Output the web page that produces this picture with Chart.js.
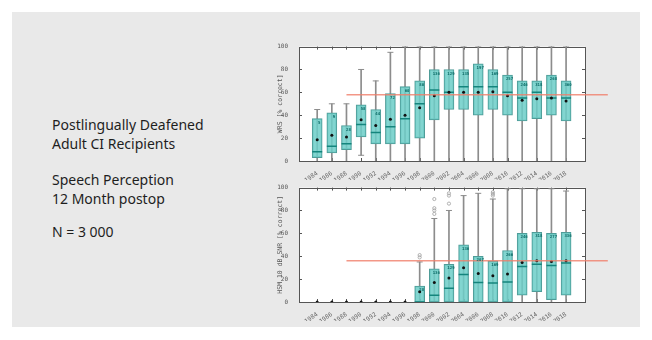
<!DOCTYPE html>
<html>
<head>
<meta charset="utf-8">
<script src="https://cdn.jsdelivr.net/npm/chart.js@4.4.0/dist/chart.umd.min.js"></script>
<style>
  body { margin: 0; background: #ffffff; }
  #panel { position: absolute; left: 12px; top: 12px; width: 628px; height: 315px; background: #e9e9e9; }
  .txt { position: absolute; left: 52px; font-family: "Noto Sans", sans-serif; font-size: 14px; color: #1e1e1e; line-height: 19px; white-space: nowrap; }
  .cv { position: absolute; left: 262px; width: 380px; height: 140px; }
</style>
</head>
<body>
<div id="panel"></div>
<div class="txt" style="top:115px">Postlingually Deafened<br>Adult CI Recipients</div>
<div class="txt" style="top:170px">Speech Perception<br>12 Month postop</div>
<div class="txt" style="top:222px">N = 3 000</div>
<div class="cv" style="top:40px"><canvas id="wrsChart" width="380" height="140"></canvas></div>
<div class="cv" style="top:181px"><canvas id="hsmChart" width="380" height="140"></canvas></div>
<script>
const years = [1984, 1986, 1988, 1990, 1992, 1994, 1996, 1998, 2000, 2002, 2004, 2006, 2008, 2010, 2012, 2014, 2016, 2018];

// WRS [% correct]
const wrsMin    = [0, 0, 0, 5, 0, 0, 0, 0, 0, 0, 0, 0, 0, 0, 0, 0, 0, 0];
const wrsQ1     = [3, 7, 10, 21, 15, 15, 15, 20, 36, 45, 45, 40, 45, 40, 35, 37, 40, 35];
const wrsMedian = [8, 13, 15, 32, 25, 30, 37, 50, 62, 60, 65, 65, 65, 60, 55, 60, 55, 55];
const wrsQ3     = [37, 42, 31, 49, 45, 59, 65, 70, 80, 80, 80, 85, 80, 75, 70, 70, 75, 70];
const wrsMax    = [45, 50, 50, 80, 70, 95, 100, 100, 100, 100, 100, 100, 100, 100, 100, 100, 100, 100];
const wrsMean   = [18.5, 22.5, 21, 36, 31, 36.5, 40, 46.5, 57, 60, 60, 60, 60.5, 57, 53, 54.5, 55, 52.5];
const wrsCount  = [5, 9, 28, 58, 44, 72, 60, 80, 136, 129, 135, 197, 169, 257, 246, 318, 268, 360];
const wrsRef = 58;

// HSM 10 dB SNR [% correct]
const hsmMin    = [null, null, null, null, null, null, null, 0, 0, 0, 0, 0, 0, 0, 0, 0, 0, 0];
const hsmQ1     = [null, null, null, null, null, null, null, 0, 0, 0, 0, 0, 0, 0, 6, 9, 2, 6];
const hsmMedian = [null, null, null, null, null, null, null, 0, 6, 12, 24, 17, 16.5, 17.5, 31, 33, 32, 34];
const hsmQ3     = [null, null, null, null, null, null, null, 14, 29, 33, 50, 40, 36, 45, 60, 61, 60, 61];
const hsmMax    = [null, null, null, null, null, null, null, 35, 73, 80, 93, 95, 90, 99, 99, 99, 99, 97];
const hsmMean   = [0, 0, 0, 0, 0, 0, 0, 9, 17, 21, 30, 25, 23, 24.5, 34.5, 36, 35.5, 36];
const hsmCount  = [null, null, null, null, null, null, null, 28, 136, 129, 136, 207, 169, 266, 246, 318, 277, 336];
const hsmOutlierYears  = [1998, 1998, 2000, 2000, 2000, 2000, 2002, 2002, 2002, 2008, 2008, 2008];
const hsmOutlierValues = [39, 41, 77, 80, 82, 90, 86, 93, 95, 93, 94.5, 96];
const hsmRef = 36;

const refStart = 3;      // red line starts at 1988
const refEnd = 20.85;    // and runs past the right edge
const mono = "DejaVu Sans Mono";

// white plot area, frame and inward ticks
const framePlugin = {
  id: 'frame',
  beforeDatasetsDraw(chart) {
    const { ctx, chartArea: a, scales } = chart;
    ctx.save();
    ctx.fillStyle = '#ffffff';
    ctx.fillRect(a.left, a.top, a.right - a.left, a.bottom - a.top);
    ctx.strokeStyle = '#555555';
    ctx.lineWidth = 1;
    ctx.beginPath();
    years.forEach((y, i) => {
      const px = Math.round(scales.x.getPixelForValue(i + 1)) + 0.5;
      ctx.moveTo(px, a.top); ctx.lineTo(px, a.top + 3);
      ctx.moveTo(px, a.bottom); ctx.lineTo(px, a.bottom - 3);
    });
    [20, 40, 60, 80].forEach(v => {
      const py = Math.round(scales.y.getPixelForValue(v)) + 0.5;
      ctx.moveTo(a.left, py); ctx.lineTo(a.left + 3, py);
      ctx.moveTo(a.right, py); ctx.lineTo(a.right - 3, py);
    });
    ctx.stroke();
    ctx.strokeRect(Math.round(a.left) + 0.5, Math.round(a.top) + 0.5, Math.round(a.right - a.left), Math.round(a.bottom - a.top));
    ctx.restore();
  }
};

// sample size in the top corner of each box
const countPlugin = {
  id: 'counts',
  afterDatasetsDraw(chart, args, opts) {
    const { ctx, scales } = chart;
    ctx.save();
    ctx.font = 'bold 4px ' + mono;
    ctx.fillStyle = '#0b6b66';
    ctx.textAlign = 'center';
    ctx.textBaseline = 'top';
    opts.counts.forEach((n, i) => {
      if (n == null) return;
      ctx.fillText(String(n), scales.x.getPixelForValue(i + 1) + 2, scales.y.getPixelForValue(opts.q3[i]) + 2);
    });
    ctx.restore();
  }
};

function makeChart(id, title, mins, q1, med, q3, maxs, means, counts, ref, outX, outY) {
  const idx = years.map((y, i) => i + 1);
  // caps only where the whisker ends above the floor
  const caps = [];
  idx.forEach((x, i) => {
    if (maxs[i] == null) return;
    caps.push({ x: x, y: maxs[i] });
    if (mins[i] > 0) caps.push({ x: x, y: mins[i] });
  });
  const datasets = [
    {
      type: 'bar', label: 'whisker', grouped: false, order: 6,
      data: idx.map((x, i) => ({ x: x, y: mins[i] == null ? null : [mins[i], maxs[i]] })),
      backgroundColor: '#8c8c8c', barThickness: 1
    },
    {
      type: 'scatter', label: 'cap', order: 5,
      data: caps,
      pointStyle: 'line', radius: 3, borderColor: '#8c8c8c', borderWidth: 1
    },
    {
      type: 'bar', label: 'box', grouped: false, order: 4,
      data: idx.map((x, i) => ({ x: x, y: q1[i] == null ? null : [q1[i], q3[i]] })),
      backgroundColor: 'rgba(108, 206, 200, 0.85)', borderColor: '#4f9c98', borderWidth: 1,
      borderSkipped: false, barThickness: 10
    },
    {
      type: 'scatter', label: 'median', order: 3,
      data: idx.map((x, i) => ({ x: x, y: med[i] })),
      pointStyle: 'line', radius: 5, borderColor: '#14857d', borderWidth: 1.5
    },
    {
      type: 'scatter', label: 'outlier', order: 3,
      data: outX.map((yr, i) => ({ x: years.indexOf(yr) + 1, y: outY[i] })),
      pointStyle: 'circle', radius: 1.6, borderColor: '#a0a0a0', backgroundColor: 'rgba(0,0,0,0)', borderWidth: 0.8
    },
    {
      type: 'scatter', label: 'mean', order: 2,
      data: idx.map((x, i) => ({ x: x, y: means[i] })),
      pointStyle: 'circle', radius: 1.5, backgroundColor: '#111111', borderWidth: 0
    },
    {
      type: 'line', label: 'reference', order: 1, clip: false,
      data: [{ x: refStart, y: ref }, { x: refEnd, y: ref }],
      borderColor: 'rgba(240, 125, 105, 0.8)', borderWidth: 1.5, pointRadius: 0
    }
  ];

  return new Chart(document.getElementById(id), {
    type: 'bar',
    data: { datasets: datasets },
    plugins: [framePlugin, countPlugin],
    options: {
      responsive: false,
      animation: false,
      events: [],
      layout: { padding: { top: 6, right: 57, left: 0, bottom: 0 } },
      plugins: {
        legend: { display: false },
        tooltip: { enabled: false },
        counts: { counts: counts, q3: q3 }
      },
      scales: {
        x: {
          type: 'linear', min: 0.3, max: 18.75,
          grid: { display: false }, border: { display: false },
          afterBuildTicks: (s) => { s.ticks = years.map((y, i) => ({ value: i + 1 })); },
          afterFit: (s) => { s.height = 19; },
          ticks: {
            autoSkip: false, minRotation: 35, maxRotation: 35, padding: 1,
            color: '#666666', font: { family: mono, size: 6 },
            callback: (v) => years[v - 1]
          }
        },
        y: {
          min: 0, max: 100,
          grid: { display: false }, border: { display: false },
          afterFit: (s) => { s.width = 37; },
          ticks: { stepSize: 20, padding: 3, color: '#555555', font: { family: mono, size: 6 } },
          title: {
            display: true, text: title, color: '#555555',
            font: { family: mono, size: 6.5 }, padding: { top: 14, bottom: 0 }
          }
        }
      }
    }
  });
}

makeChart('wrsChart', 'WRS [% correct]', wrsMin, wrsQ1, wrsMedian, wrsQ3, wrsMax, wrsMean, wrsCount, wrsRef, [], []);
makeChart('hsmChart', 'HSM 10 dB SNR [% correct]', hsmMin, hsmQ1, hsmMedian, hsmQ3, hsmMax, hsmMean, hsmCount, hsmRef, hsmOutlierYears, hsmOutlierValues);
</script>
</body>
</html>
